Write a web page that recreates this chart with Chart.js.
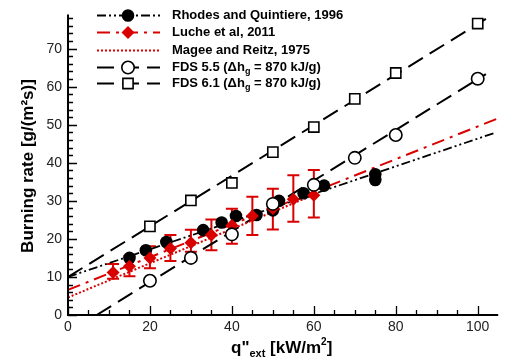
<!DOCTYPE html>
<html><head><meta charset="utf-8">
<script src="https://cdn.jsdelivr.net/npm/chart.js@4.4.0/dist/chart.umd.min.js"></script>
<style>html,body{margin:0;padding:0;background:#fff}canvas{display:block}</style>
</head><body>
<canvas id="c" width="507" height="362"></canvas>
<script>
// ---- data ----
const rhodesX = [15, 19, 24, 33, 37.5, 41, 46, 50, 51.5, 57.5, 62.5, 75, 75];
const rhodesY = [15, 17, 19.2, 22.3, 24.3, 26, 26.3, 27.5, 30, 32, 34, 37, 35.5];
const rhodesLineX = [0, 104];
const rhodesLineY = [10, 47.8];

const lucheX = [11, 15, 20, 25, 30, 35, 40, 45, 50, 55, 60];
const lucheY = [11.2, 12.8, 15, 17.5, 19, 21, 23.5, 26, 28, 30.4, 31.5];
const lucheLo = [9.5, 10.2, 12.3, 14.2, 16.6, 17, 18.7, 21, 22.5, 24.5, 25.6];
const lucheHi = [13.4, 15.6, 18.1, 21, 22.4, 25.1, 27.9, 31.1, 33.2, 36.7, 38.1];
const lucheLineX = [0, 105];
const lucheLineY = [6.6, 51.7];

const mageeLineX = [0, 60];
const mageeLineY = [4.6, 31.6];

const fds55X = [20, 30, 40, 50, 60, 70, 80, 100];
const fds55Y = [9, 15, 21.2, 29.2, 34.2, 41.3, 47.3, 62.1];
const fds55LineX = [7, 102];
const fds55LineY = [0, 63.3];

const fds61X = [20, 30, 40, 50, 60, 70, 80, 100];
const fds61Y = [23.3, 30.1, 34.7, 42.8, 49.4, 56.8, 63.6, 76.6];
const fds61LineX = [0, 102];
const fds61LineY = [10, 77.8];

const xTicks = [0, 20, 40, 60, 80, 100];
const yTicks = [0, 10, 20, 30, 40, 50, 60, 70];

const legendLabels = [
  "Rhodes and Quintiere, 1996",
  "Luche et al, 2011",
  "Magee and Reitz, 1975",
  ["FDS 5.5 (\u0394h", "g", " = 870 kJ/g)"],
  ["FDS 6.1 (\u0394h", "g", " = 870 kJ/g)"]
];

const RED = '#d90000';
const pts = (xs, ys) => xs.map((v, i) => ({x: v, y: ys[i]}));

const DASH_RH = [9, 3, 2, 3, 2, 3];
const DASH_LU = [13, 6, 3, 6];
const DASH_MA = [2, 2];
const DASH_FDS = [17, 8];

const datasets = [
  {label:'fds61pts', data: pts(fds61X, fds61Y), showLine:false, pointStyle:'rect', pointRadius:7.2,
   pointBackgroundColor:'#fff', pointBorderColor:'#000', pointBorderWidth:1.6, order:1},
  {label:'fds55pts', data: pts(fds55X, fds55Y), showLine:false, pointStyle:'circle', pointRadius:6.2,
   pointBackgroundColor:'#fff', pointBorderColor:'#000', pointBorderWidth:1.6, order:2},
  {label:'luche', data: pts(lucheX, lucheY), showLine:false, pointStyle:'rectRot', pointRadius:6.5,
   pointBackgroundColor:RED, pointBorderColor:RED, pointBorderWidth:0, order:3},
  {label:'rhodes', data: pts(rhodesX, rhodesY), showLine:false, pointStyle:'circle', pointRadius:6.3,
   pointBackgroundColor:'#000', pointBorderColor:'#000', pointBorderWidth:0, order:4},
  {label:'rhLine', data: pts(rhodesLineX, rhodesLineY), showLine:true, pointRadius:0, borderColor:'#000',
   borderWidth:1.8, borderDash:DASH_RH, order:5},
  {label:'luLine', data: pts(lucheLineX, lucheLineY), showLine:true, pointRadius:0, borderColor:RED,
   borderWidth:2, borderDash:DASH_LU, order:6},
  {label:'maLine', data: pts(mageeLineX, mageeLineY), showLine:true, pointRadius:0, borderColor:RED,
   borderWidth:2, borderDash:DASH_MA, order:7},
  {label:'f55Line', data: pts(fds55LineX, fds55LineY), showLine:true, pointRadius:0, borderColor:'#000',
   borderWidth:2, borderDash:DASH_FDS, order:8},
  {label:'f61Line', data: pts(fds61LineX, fds61LineY), showLine:true, pointRadius:0, borderColor:'#000',
   borderWidth:2, borderDash:DASH_FDS, order:9}
];

const FONT = "'Liberation Sans', Arial, sans-serif";

const deco = {
  id: 'deco',
  beforeDatasetsDraw(chart) {
    const {ctx, scales: {x, y}} = chart;
    ctx.save();
    ctx.strokeStyle = RED; ctx.lineWidth = 2; ctx.setLineDash([]);
    lucheX.forEach((v, i) => {
      const px = x.getPixelForValue(v);
      const pl = y.getPixelForValue(lucheLo[i]);
      const ph = y.getPixelForValue(lucheHi[i]);
      ctx.beginPath();
      ctx.moveTo(px, pl); ctx.lineTo(px, ph);
      ctx.moveTo(px - 6, pl); ctx.lineTo(px + 6, pl);
      ctx.moveTo(px - 6, ph); ctx.lineTo(px + 6, ph);
      ctx.stroke();
    });
    ctx.restore();
  },
  afterDraw(chart) {
    const {ctx, chartArea: ca, scales: {x, y}} = chart;
    ctx.save();
    // axes
    ctx.strokeStyle = '#000'; ctx.lineWidth = 2; ctx.setLineDash([]);
    ctx.beginPath();
    ctx.moveTo(ca.left, ca.top); ctx.lineTo(ca.left, ca.bottom); ctx.lineTo(ca.right, ca.bottom);
    ctx.stroke();
    ctx.lineWidth = 1.3;
    ctx.beginPath();
    for (let v = 0; v <= 100; v += 5) {
      const px = Math.round(x.getPixelForValue(v)) + 0.5;
      const len = (v % 20 === 0) ? 9 : 5;
      ctx.moveTo(px, ca.bottom); ctx.lineTo(px, ca.bottom - len);
    }
    for (let v = 0; v <= 78; v += 2) {
      const py = Math.round(y.getPixelForValue(v)) + 0.5;
      const len = (v % 10 === 0) ? 9 : 5;
      ctx.moveTo(ca.left, py); ctx.lineTo(ca.left + len, py);
    }
    ctx.stroke();

    // titles
    ctx.fillStyle = '#000';
    ctx.textBaseline = 'alphabetic';
    ctx.save();
    ctx.translate(33, 166);
    ctx.rotate(-Math.PI / 2);
    ctx.font = "bold 17px " + FONT;
    ctx.textAlign = 'center';
    ctx.fillText("Burning rate [g/(m\u00B2s)]", 0, 0);
    ctx.restore();

    ctx.textAlign = 'left';
    let cx = 231; const by = 353;
    ctx.font = "bold 17px " + FONT;
    ctx.fillText('q"', cx, by); cx += ctx.measureText('q"').width;
    ctx.font = "bold 11px " + FONT;
    ctx.fillText('ext', cx, by + 4); cx += ctx.measureText('ext').width;
    ctx.font = "bold 17px " + FONT;
    ctx.fillText(' [kW/m', cx, by); cx += ctx.measureText(' [kW/m').width;
    ctx.font = "bold 10px " + FONT;
    ctx.fillText('2', cx, by - 8); cx += ctx.measureText('2').width;
    ctx.font = "bold 17px " + FONT;
    ctx.fillText(']', cx, by);

    // legend
    const rows = [15, 32, 50, 67, 83];
    const lx0 = 97, lx1 = 160, mx = 128, tx = 172;
    const styles = [
      {color:'#000', dash:DASH_RH, w:1.8, marker:{pointStyle:'circle', radius:6.3, fill:'#000', stroke:'#000', bw:0}},
      {color:RED, dash:DASH_LU, w:2, marker:{pointStyle:'rectRot', radius:6.5, fill:RED, stroke:RED, bw:0}},
      {color:RED, dash:DASH_MA, w:2, marker:null},
      {color:'#000', dash:DASH_FDS, w:2, marker:{pointStyle:'circle', radius:6.2, fill:'#fff', stroke:'#000', bw:1.6}},
      {color:'#000', dash:DASH_FDS, w:2, marker:{pointStyle:'rect', radius:7.2, fill:'#fff', stroke:'#000', bw:1.6}}
    ];
    styles.forEach((s, i) => {
      const ry = rows[i] + 0.5;
      ctx.strokeStyle = s.color; ctx.lineWidth = s.w; ctx.setLineDash(s.dash);
      ctx.beginPath(); ctx.moveTo(lx0, ry); ctx.lineTo(lx1, ry); ctx.stroke();
      ctx.setLineDash([]);
      if (s.marker) {
        ctx.fillStyle = s.marker.fill; ctx.strokeStyle = s.marker.stroke; ctx.lineWidth = s.marker.bw;
        Chart.helpers.drawPoint(ctx, {pointStyle:s.marker.pointStyle, radius:s.marker.radius, rotation:0, borderWidth:s.marker.bw}, mx, ry);
      }
      ctx.fillStyle = '#000';
      ctx.textBaseline = 'middle';
      const lab = legendLabels[i];
      if (typeof lab === 'string') {
        ctx.font = "bold 13px " + FONT;
        ctx.fillText(lab, tx, ry);
      } else {
        let px = tx;
        ctx.font = "bold 13px " + FONT;
        ctx.fillText(lab[0], px, ry); px += ctx.measureText(lab[0]).width;
        ctx.font = "bold 9px " + FONT;
        ctx.fillText(lab[1], px, ry + 4); px += ctx.measureText(lab[1]).width;
        ctx.font = "bold 13px " + FONT;
        ctx.fillText(lab[2], px, ry);
      }
    });
    ctx.restore();
  }
};

new Chart(document.getElementById('c'), {
  type: 'scatter',
  data: { datasets },
  options: {
    responsive: false,
    devicePixelRatio: 1,
    animation: false,
    layout: { padding: { top: 5, right: 5, left: 0, bottom: 0 } },
    plugins: { legend: { display: false }, tooltip: { enabled: false } },
    elements: { line: { tension: 0 } },
    scales: {
      x: {
        type: 'linear', min: 0, max: 105,
        grid: { display: false, tickLength: 0, drawTicks: false }, border: { display: false },
        ticks: { stepSize: 20, padding: 4, color: '#222', font: { size: 14, family: FONT } },
        afterBuildTicks: s => { s.ticks = xTicks.map(v => ({value: v})); },
        afterFit: s => { s.height = 47; }
      },
      y: {
        type: 'linear', min: 0, max: 79,
        grid: { display: false, tickLength: 0, drawTicks: false }, border: { display: false },
        ticks: { stepSize: 10, padding: 6, color: '#222', font: { size: 14, family: FONT } },
        afterBuildTicks: s => { s.ticks = yTicks.map(v => ({value: v})); },
        afterFit: s => { s.width = 68; }
      }
    }
  },
  plugins: [deco]
});
</script>
</body></html>
